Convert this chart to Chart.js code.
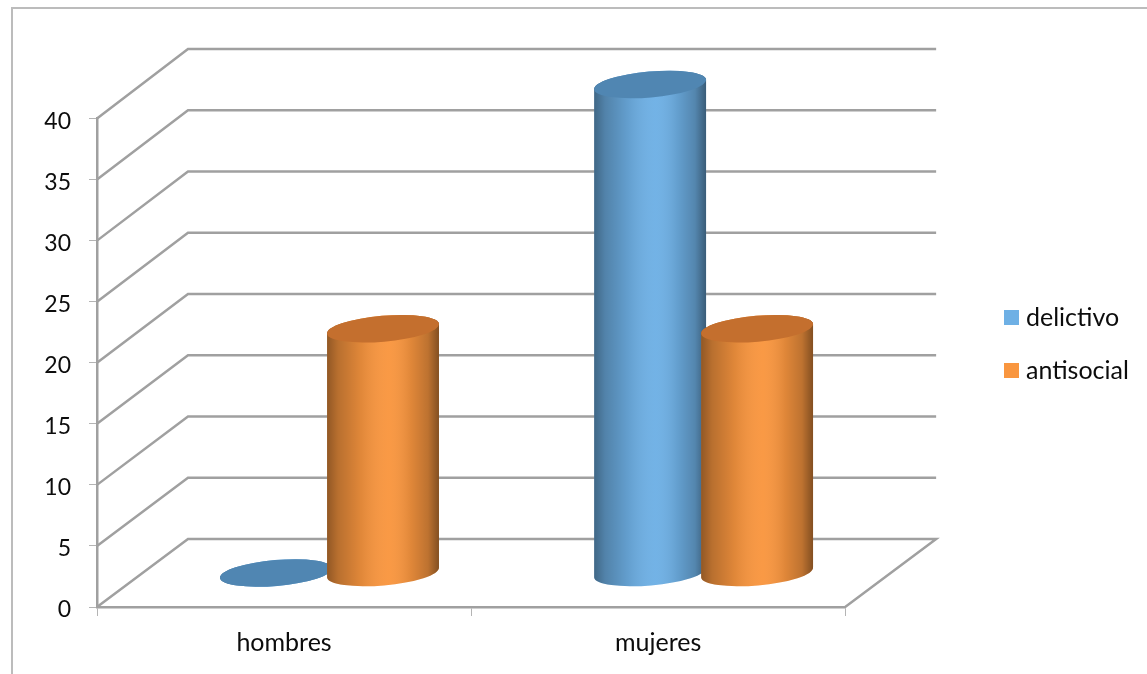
<!DOCTYPE html>
<html>
<head>
<meta charset="utf-8">
<title>delictivo / antisocial</title>
<style>
  html, body { margin: 0; background: #fff; overflow: hidden; }
  #frame { position: absolute; left: 11px; top: 7px; width: 1200px; height: 700px;
           border-left: 2px solid #bcbcbc; border-top: 2px solid #bcbcbc; }
  #chart { position: absolute; left: 0; top: 0; }
</style>
<script src="https://cdn.jsdelivr.net/npm/chart.js@4/dist/chart.umd.js"></script>
</head>
<body>
<div id="frame"></div>
<canvas id="chart" width="1147" height="674"></canvas>
<script>
var categories = ["hombres", "mujeres"];
var delictivo = [0, 40];
var antisocial = [20, 20];
var yTicks = [0, 5, 10, 15, 20, 25, 30, 35, 40];

var NUM_FONT = { family: "Lato", size: 23 };
var FONT = { family: "Lato", size: 25 };
var TEXT = "#0c0c0c";
var LINE = "#a0a0a0";

// floor depth of the 3D box, and how far the columns stand into it
var DEPTH_X = 91, DEPTH_Y = 68, DEPTH_RISE = 1.5;
var COL_X = 45.5, COL_Y = -34;
var CAP_RY = 13, CAP_TILT = -5 * Math.PI / 180;

// round shading across a column, [offset, overlay colour]
var SHADE = [
  [0, "rgba(0,0,0,0.42)"],
  [0.1, "rgba(0,0,0,0.26)"],
  [0.3, "rgba(0,0,0,0.10)"],
  [0.55, "rgba(255,255,255,0.03)"],
  [0.75, "rgba(0,0,0,0.10)"],
  [0.9, "rgba(0,0,0,0.24)"],
  [1, "rgba(0,0,0,0.48)"]
];

// bars become cylinders: same x / y / base / width, just a different outline
Chart.BarElement.prototype.draw = function (ctx) {
  var rx = this.width / 2;
  var cx = this.x + COL_X;
  var top = this.y + COL_Y;
  var base = this.base + COL_Y;

  ctx.save();
  ctx.beginPath();
  ctx.ellipse(cx, base, rx, CAP_RY, CAP_TILT, 0, Math.PI);
  ctx.ellipse(cx, top, rx, CAP_RY, CAP_TILT, Math.PI, Math.PI * 2);
  ctx.closePath();
  ctx.fillStyle = this.options.backgroundColor;
  ctx.fill();
  var g = ctx.createLinearGradient(cx - rx, 0, cx + rx, 0);
  SHADE.forEach(function (s) { g.addColorStop(s[0], s[1]); });
  ctx.fillStyle = g;
  ctx.fill();

  ctx.beginPath();
  ctx.ellipse(cx, top, rx, CAP_RY, CAP_TILT, 0, Math.PI * 2);
  ctx.fillStyle = this.options.borderColor;
  ctx.fill();
  ctx.restore();
};

// side and back walls of the 3D box, hung on the value axis
var box3d = {
  id: "box3d",
  beforeDatasetsDraw: function (chart) {
    var ctx = chart.ctx, y = chart.scales.y, a = chart.chartArea;
    ctx.save();
    ctx.strokeStyle = LINE;
    ctx.lineWidth = 2.5;
    yTicks.forEach(function (v) {
      var py = y.getPixelForValue(v);
      var by = py - DEPTH_Y - DEPTH_RISE * v / 40;
      ctx.beginPath();
      ctx.moveTo(a.left, py);
      ctx.lineTo(a.left + DEPTH_X, by);
      ctx.lineTo(a.right + DEPTH_X, by);
      if (v === 0) ctx.lineTo(a.right, py);
      ctx.stroke();
    });
    ctx.restore();
  }
};

// second series paints over the first, where the columns touch
var paintOrder = {
  id: "paintOrder",
  beforeDatasetDraw: function (chart, args) {
    return args.index !== 1;
  },
  afterDatasetsDraw: function (chart) {
    chart.getDatasetMeta(1).controller.draw();
  }
};

// legend sits off to the right of the box, not against the plot
var legendPlace = {
  id: "legendPlace",
  afterLayout: function (chart) {
    var l = chart.legend;
    l.left = 981.5;
    l.top = 277;
    l.right = l.left + l.width;
    l.bottom = l.top + l.height;
  }
};

new Chart(document.getElementById("chart"), {
  type: "bar",
  data: {
    labels: categories,
    datasets: [
      { label: "delictivo", data: delictivo, clip: false,
        backgroundColor: "#6eb0e5", borderColor: "#5086b2", borderWidth: 0 },
      { label: "antisocial", data: antisocial, clip: false,
        backgroundColor: "#f9963f", borderColor: "#c46f2e", borderWidth: 0 }
    ]
  },
  options: {
    responsive: false,
    animation: false,
    categoryPercentage: 0.572,
    barPercentage: 1.05,
    layout: { padding: { top: 118.5, right: 144.5 } },
    plugins: {
      title: { display: false },
      tooltip: { enabled: false },
      legend: {
        position: "right",
        align: "start",
        labels: {
          font: FONT,
          color: TEXT,
          usePointStyle: true,
          pointStyle: "rect",
          boxWidth: 4,
          boxHeight: 15,
          padding: 28
        }
      }
    },
    scales: {
      x: {
        afterFit: function (s) { s.height = 67; },
        border: { color: LINE, width: 2.5 },
        grid: { drawOnChartArea: false, tickLength: 9, tickColor: "#b4b4b4", tickWidth: 1 },
        ticks: { font: FONT, color: TEXT, maxRotation: 0, padding: 12 }
      },
      y: {
        min: 0,
        max: 40,
        afterFit: function (s) { s.width = 97; },
        afterBuildTicks: function (s) { s.ticks = yTicks.map(function (v) { return { value: v }; }); },
        border: { color: LINE, width: 2.5 },
        grid: { drawOnChartArea: false, tickLength: 8, tickColor: "#b4b4b4", tickWidth: 1 },
        ticks: { font: NUM_FONT, color: TEXT, padding: 18, labelOffset: 3 }
      }
    }
  },
  plugins: [box3d, paintOrder, legendPlace]
});
</script>
</body>
</html>
